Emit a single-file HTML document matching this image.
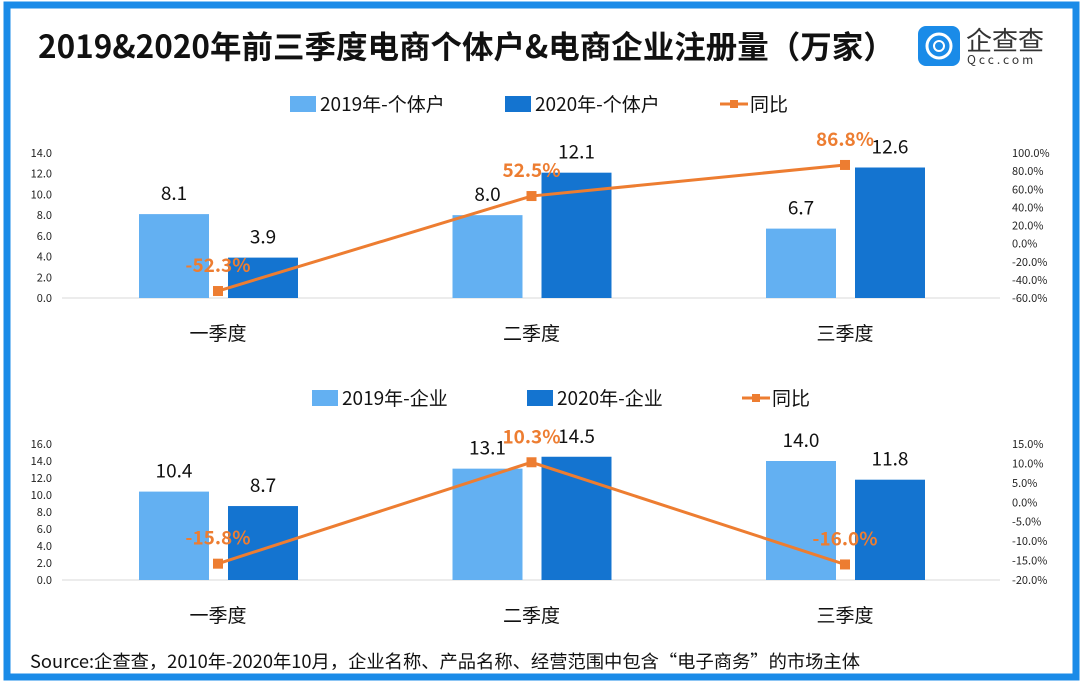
<!DOCTYPE html>
<html><head><meta charset="utf-8"><style>
body{margin:0;background:#fff;font-family:"Noto Sans CJK SC","Liberation Sans",sans-serif;}
#wrap{position:relative;width:1080px;height:686px;overflow:hidden;background:#fff;}
</style></head><body>
<div id="wrap">
<svg id="svg" width="1080" height="686" xmlns="http://www.w3.org/2000/svg" font-family="Noto Sans CJK SC, Liberation Sans, sans-serif">
<rect x="7" y="5" width="1069" height="672" fill="none" stroke="#1a8be8" stroke-width="7"/>
<text x="38" y="58" font-size="31.5" font-weight="bold" fill="#111">2019&amp;2020年前三季度电商个体户&amp;电商企业注册量（万家）</text>
<g>
<rect x="918" y="26" width="42" height="40" rx="8" fill="#1a8be8"/>
<circle cx="939" cy="46" r="12" fill="none" stroke="#fff" stroke-width="3"/>
<circle cx="939" cy="46" r="5" fill="none" stroke="#fff" stroke-width="2"/>
<text x="966" y="50" font-size="26" fill="#333">企查查</text>
<text x="967" y="64" font-size="12" fill="#333" letter-spacing="3">Qcc.com</text>
</g>
<text x="30" y="668" font-size="18.3" fill="#111">Source:企查查，2010年-2020年10月，企业名称、产品名称、经营范围中包含“电子商务”的市场主体</text>
<g id="c1"></g><g id="c2"></g>
</svg>
</div>
<script>
const categories=["一季度","二季度","三季度"];
const c1_2019=[8.1,8.0,6.7];
const c1_2020=[3.9,12.1,12.6];
const c1_yoy=[-52.3,52.5,86.8];
const c1_leftTicks=[0,2,4,6,8,10,12,14];
const c1_rightTicks=[-60,-40,-20,0,20,40,60,80,100];
const c2_2019=[10.4,13.1,14.0];
const c2_2020=[8.7,14.5,11.8];
const c2_yoy=[-15.8,10.3,-16.0];
const c2_leftTicks=[0,2,4,6,8,10,12,14,16];
const c2_rightTicks=[-20,-15,-10,-5,0,5,10,15];
const NS="http://www.w3.org/2000/svg";
function mk(p,t,a,txt){const e=document.createElementNS(NS,t);for(const k in a)e.setAttribute(k,a[k]);if(txt!==undefined)e.textContent=txt;p.appendChild(e);return e;}
function draw(gid,cfg){
 const g=document.getElementById(gid);
 const y0=cfg.y0,y1=cfg.y1;
 const yL=v=>y0-(v-cfg.lmin)/(cfg.lmax-cfg.lmin)*(y0-y1);
 const yR=v=>y0-(v-cfg.rmin)/(cfg.rmax-cfg.rmin)*(y0-y1);
 const cx=i=>218+i*313.5;
 const ly=cfg.legY;
 let e=mk(g,'rect',{x:cfg.legX,y:ly-8,width:26,height:16,fill:'#63b0f2'});
 
 e=mk(g,'text',{x:cfg.legX+30,y:ly+7,'font-size':19,fill:'#111'},cfg.leg1);
 
 e=mk(g,'rect',{x:cfg.legX+215,y:ly-8,width:26,height:16,fill:'#1474d0'});
 
 e=mk(g,'text',{x:cfg.legX+245,y:ly+7,'font-size':19,fill:'#111'},cfg.leg2);
 
 mk(g,'line',{x1:cfg.legX+430,x2:cfg.legX+458,y1:ly,y2:ly,stroke:'#ed7d31','stroke-width':3});
 mk(g,'rect',{x:cfg.legX+440,y:ly-4,width:8,height:8,fill:'#ed7d31'});
 e=mk(g,'text',{x:cfg.legX+460,y:ly+7,'font-size':19,fill:'#111'},'同比');
 
 cfg.lt.forEach(v=>{e=mk(g,'text',{x:52,y:yL(v)+4,'font-size':11,fill:'#222','text-anchor':'end'},v.toFixed(1));
  });
 cfg.rt.forEach(v=>{e=mk(g,'text',{x:1012,y:yR(v)+4,'font-size':11,fill:'#222'},v.toFixed(1)+'%');
  });
 mk(g,'line',{x1:62,x2:1000,y1:y0,y2:y0,stroke:'#d9d9d9','stroke-width':1});
 categories.forEach((c,i)=>{
  const h1=cfg.a[i],h2=cfg.b[i];
  e=mk(g,'rect',{x:cx(i)-79,y:yL(h1),width:70,height:y0-yL(h1),fill:'#63b0f2'});
  
  e=mk(g,'rect',{x:cx(i)+10,y:yL(h2),width:70,height:y0-yL(h2),fill:'#1474d0'});
  
  e=mk(g,'text',{x:cx(i)-44,y:yL(h1)-14,'font-size':19,fill:'#111','text-anchor':'middle'},h1.toFixed(1));
  
  e=mk(g,'text',{x:cx(i)+45,y:yL(h2)-14,'font-size':19,fill:'#111','text-anchor':'middle'},h2.toFixed(1));
  
  e=mk(g,'text',{x:cx(i),y:cfg.catY,'font-size':19,fill:'#111','text-anchor':'middle'},c);
  
 });
 const pts=cfg.r.map((v,i)=>cx(i)+','+yR(v)).join(' ');
 e=mk(g,'polyline',{points:pts,fill:'none',stroke:'#ed7d31','stroke-width':3});
 
 cfg.r.forEach((v,i)=>{
  e=mk(g,'rect',{x:cx(i)-5,y:yR(v)-5,width:10,height:10,fill:'#ed7d31'});
  
  e=mk(g,'text',{x:cx(i),y:yR(v)-19,'font-size':19,'font-weight':'bold',fill:'#ed7d31','text-anchor':'middle'},v.toFixed(1)+'%');
  
 });
}
draw('c1',{y0:298,y1:153,lmin:0,lmax:14,rmin:-60,rmax:100,lt:c1_leftTicks,rt:c1_rightTicks,a:c1_2019,b:c1_2020,r:c1_yoy,legY:104,legX:290,leg1:'2019年-个体户',leg2:'2020年-个体户',catY:340});
draw('c2',{y0:580,y1:444,lmin:0,lmax:16,rmin:-20,rmax:15,lt:c2_leftTicks,rt:c2_rightTicks,a:c2_2019,b:c2_2020,r:c2_yoy,legY:398,legX:312,leg1:'2019年-企业',leg2:'2020年-企业',catY:622});
</script>
</body></html>
